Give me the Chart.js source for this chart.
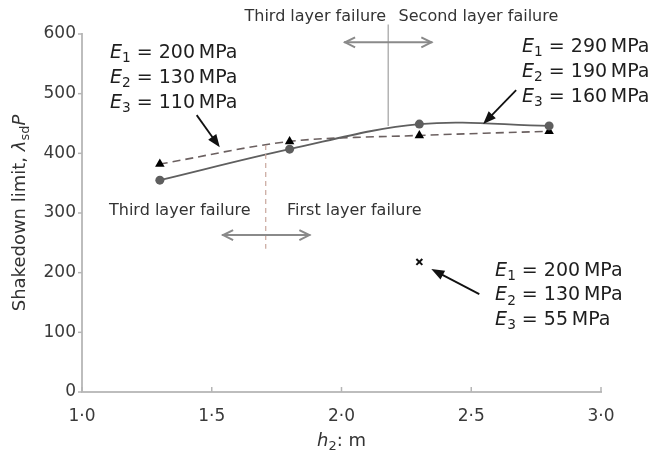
<!DOCTYPE html>
<html><head><meta charset="utf-8">
<script src="https://cdn.jsdelivr.net/npm/chart.js@4/dist/chart.umd.min.js"></script>
<style>html,body{margin:0;padding:0;background:#fff}#wrap{width:650px;height:457px}</style>
</head><body><div id="wrap"><canvas id="c" width="650" height="457"></canvas></div>
<script>
// ---- data ----
const hValues = [1.3, 1.8, 2.3, 2.8];
const limitE290 = [355, 407, 449, 446];      // E1=290, E2=190, E3=160 MPa (solid, circles)
const limitE110 = [382, 420, 430, 437];      // E1=200, E2=130, E3=110 MPa (dashed, triangles)
const hSingle = [2.3];
const limitE55 = [218];                      // E1=200, E2=130, E3=55 MPa (cross)
const xTicks = [1.0, 1.5, 2.0, 2.5, 3.0];
const yTicks = [0, 100, 200, 300, 400, 500, 600];
const labelsTopLeft = ['200', '130', '110'];
const labelsTopRight = ['290', '190', '160'];
const labelsBottomRight = ['200', '130', '55'];

const FONT = "'DejaVu Sans', 'Open Sans', sans-serif";
const pts = (xs, ys) => xs.map((x, i) => ({x, y: ys[i]}));

function fontStr(size, italic){ return (italic ? 'italic ' : '') + size + 'px ' + FONT; }
function richWidth(ctx, segs, size){
  let w = 0;
  segs.forEach(s => { const fs = s.s ? size*0.72 : size; ctx.font = fontStr(fs, s.i); w += ctx.measureText(s.t).width; });
  return w;
}
function drawRich(ctx, x, y, segs, size, align, color){
  const w = richWidth(ctx, segs, size);
  let cx = align === 'center' ? x - w/2 : (align === 'right' ? x - w : x);
  ctx.fillStyle = color; ctx.textBaseline = 'middle'; ctx.textAlign = 'left';
  segs.forEach(s => {
    const fs = s.s ? size*0.72 : size;
    ctx.font = fontStr(fs, s.i);
    ctx.fillText(s.t, cx, s.s ? y + size*0.3 : y);
    cx += ctx.measureText(s.t).width;
  });
}
function eBlock(ctx, x, y0, vals, size, gap){
  vals.forEach((v, i) => {
    drawRich(ctx, x, y0 + i*gap, [{t:'E', i:true}, {t:String(i+1), s:true}, {t:' = ' + v + '\u2009MPa'}], size, 'left', '#1e1e1e');
  });
}
function pointer(ctx, x1, y1, x2, y2){
  const a = Math.atan2(y2-y1, x2-x1), L = 13, W = 5;
  ctx.strokeStyle = '#111'; ctx.lineWidth = 1.8;
  ctx.beginPath(); ctx.moveTo(x1, y1); ctx.lineTo(x2 - L*0.8*Math.cos(a), y2 - L*0.8*Math.sin(a)); ctx.stroke();
  ctx.fillStyle = '#111'; ctx.beginPath();
  ctx.moveTo(x2, y2);
  ctx.lineTo(x2 - L*Math.cos(a) + W*Math.sin(a), y2 - L*Math.sin(a) - W*Math.cos(a));
  ctx.lineTo(x2 - L*Math.cos(a) - W*Math.sin(a), y2 - L*Math.sin(a) + W*Math.cos(a));
  ctx.closePath(); ctx.fill();
}
function dblArrow(ctx, x1, x2, y){
  ctx.strokeStyle = '#8a8a8a'; ctx.lineWidth = 2;
  ctx.beginPath(); ctx.moveTo(x1, y); ctx.lineTo(x2, y); ctx.stroke();
  ctx.beginPath();
  ctx.moveTo(x1+11, y-5); ctx.lineTo(x1+1, y); ctx.lineTo(x1+11, y+5);
  ctx.moveTo(x2-11, y-5); ctx.lineTo(x2-1, y); ctx.lineTo(x2-11, y+5);
  ctx.stroke();
}

const annotations = {
  id: 'annotations',
  afterDraw(chart){
    const ctx = chart.ctx, xs = chart.scales.x, ys = chart.scales.y;
    const X = v => xs.getPixelForValue(v), Y = v => ys.getPixelForValue(v);
    const area = chart.chartArea;
    ctx.save();
    // tick marks
    ctx.strokeStyle = '#b5b5b5'; ctx.lineWidth = 1.5;
    yTicks.forEach(v => { ctx.beginPath(); ctx.moveTo(area.left-4, Y(v)); ctx.lineTo(area.left, Y(v)); ctx.stroke(); });
    xTicks.forEach(v => { ctx.beginPath(); ctx.moveTo(X(v), area.bottom); ctx.lineTo(X(v), area.bottom-5); ctx.stroke(); });

    // upper failure boundary
    ctx.strokeStyle = '#a8a8a8'; ctx.lineWidth = 1.3;
    ctx.beginPath(); ctx.moveTo(X(2.18), Y(446)); ctx.lineTo(X(2.18), Y(616)); ctx.stroke();
    dblArrow(ctx, X(2.01), X(2.35), Y(586));
    drawRich(ctx, X(2.172), Y(628), [{t:'Third layer failure'}], 16, 'right', '#333');
    drawRich(ctx, X(2.22), Y(628), [{t:'Second layer failure'}], 16, 'left', '#333');

    // lower failure boundary
    ctx.strokeStyle = '#c9a79c'; ctx.lineWidth = 1.2; ctx.setLineDash([5,4]);
    ctx.beginPath(); ctx.moveTo(X(1.708), Y(414)); ctx.lineTo(X(1.708), Y(240)); ctx.stroke();
    ctx.setLineDash([]);
    dblArrow(ctx, X(1.54), X(1.88), Y(263));
    drawRich(ctx, X(1.65), Y(303), [{t:'Third layer failure'}], 16, 'right', '#333');
    drawRich(ctx, X(1.79), Y(303), [{t:'First layer failure'}], 16, 'left', '#333');

    // labels and pointers
    eBlock(ctx, X(1.108), Y(568), labelsTopLeft, 19, 25);
    pointer(ctx, X(1.442), Y(464), X(1.531), Y(410));
    eBlock(ctx, X(2.696), Y(578), labelsTopRight, 19, 25);
    pointer(ctx, X(2.673), Y(506), X(2.546), Y(449));
    eBlock(ctx, X(2.592), Y(203), labelsBottomRight, 19, 24.5);
    pointer(ctx, X(2.531), Y(164), X(2.346), Y(206));

    // axis titles
    drawRich(ctx, X(2.0), 441, [{t:'h', i:true}, {t:'2', s:true}, {t:': m'}], 18, 'center', '#333');
    ctx.translate(20, 213); ctx.rotate(-Math.PI/2);
    drawRich(ctx, 0, 0, [{t:'Shakedown limit, '}, {t:'λ', i:true}, {t:'sd', s:true}, {t:'P', i:true}], 18, 'center', '#333');
    ctx.restore();
  }
};

new Chart(document.getElementById('c'), {
  type: 'line',
  data: {
    datasets: [
      { data: pts(hValues, limitE290), borderColor: '#5f5f5f', borderWidth: 1.8, tension: 0.35,
        pointStyle: 'circle', pointRadius: 4.5, pointBackgroundColor: '#5e5e5e', pointBorderWidth: 0 },
      { data: pts(hValues, limitE110), borderColor: '#6b6060', borderWidth: 1.6, borderDash: [8,5], tension: 0.3,
        pointStyle: 'triangle', pointRadius: 5.5, pointBackgroundColor: '#000', pointBorderWidth: 0 },
      { data: pts(hSingle, limitE55), showLine: false, pointStyle: 'crossRot', pointRadius: 4.2,
        pointBorderColor: '#111', pointBorderWidth: 2 }
    ]
  },
  options: {
    responsive: false, animation: false, devicePixelRatio: 1,
    layout: { padding: { top: 34, right: 49, left: 0, bottom: 0 } },
    plugins: { legend: { display: false }, tooltip: { enabled: false } },
    scales: {
      x: { type: 'linear', min: 1, max: 3,
        afterFit(s){ s.height = 65; },
        afterBuildTicks(s){ s.ticks = xTicks.map(v => ({value: v})); },
        grid: { display: false, drawTicks: false },
        border: { display: true, color: '#bdbdbd', width: 2 },
        ticks: { padding: 14, color: '#3a3a3a', font: { family: FONT, size: 17 },
          callback: v => v.toFixed(1).replace('.', '\u00b7') } },
      y: { type: 'linear', min: 0, max: 600,
        afterFit(s){ s.width = 82; },
        afterBuildTicks(s){ s.ticks = yTicks.map(v => ({value: v})); },
        grid: { display: false, drawTicks: false },
        border: { display: true, color: '#bdbdbd', width: 2 },
        ticks: { padding: 6, color: '#3a3a3a', font: { family: FONT, size: 17 } } }
    }
  },
  plugins: [annotations]
});
</script></body></html>
